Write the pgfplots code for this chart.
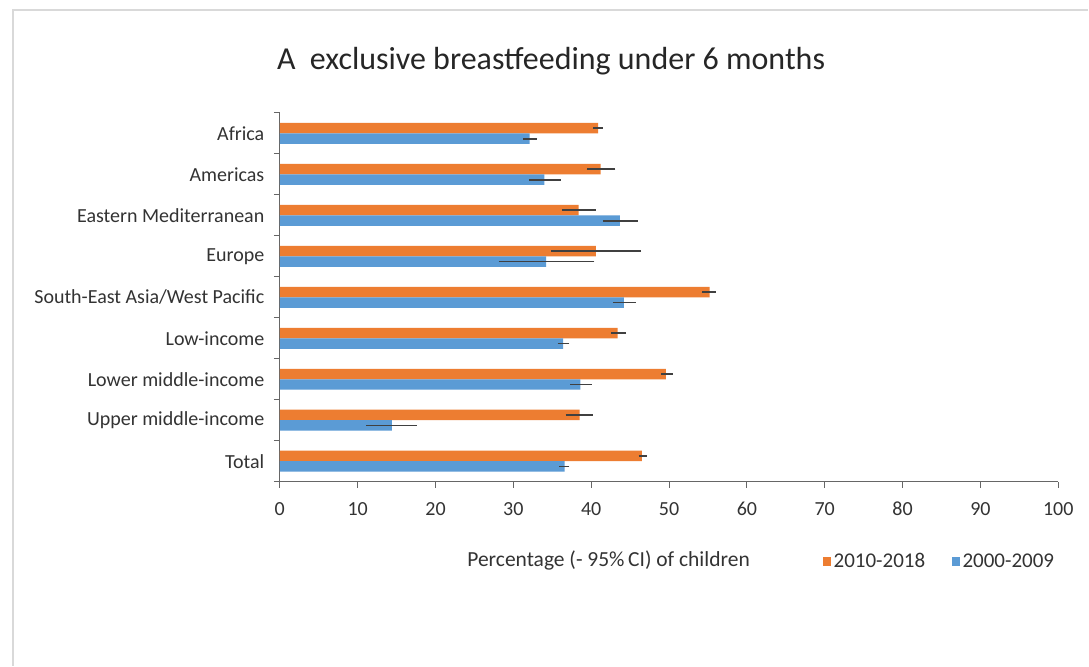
\documentclass[border=0pt]{standalone}
\usepackage{pgfplots}
\pgfplotsset{compat=1.18}
\usepackage{fontspec}
\setmainfont{Carlito}
\definecolor{orng}{HTML}{ED7D31}
\definecolor{blu}{HTML}{5B9BD5}
\begin{document}
\begin{tikzpicture}[x=1pt,y=1pt]
\fill[white] (0pt,0pt) rectangle (1089pt,-666pt);
\draw[black!15, line width=1.5pt] (13pt,-666pt) -- (13pt,-10pt) -- (1089pt,-10pt);
\node[anchor=base west, font=\fontsize{32}{38}\selectfont, text=black!85, inner sep=0pt] at (277pt,-70pt) {A\hspace{0.45em}exclusive breastfeeding under 6 months};
\begin{axis}[
  at={(280pt,-482pt)}, anchor=south west,
  width=779pt, height=369pt, scale only axis,
  xbar, bar width=10.5pt,
  xmin=0, xmax=100, ymin=-0.5, ymax=8.5, y dir=reverse,
  axis x line=bottom, axis y line=left,
  axis line style={black!60, line width=0.9pt, -},
  xtick={0,10,...,100},
  ytick={-0.5,0.5,...,8.5}, yticklabels={},
  extra y ticks={0,...,8},
  extra y tick labels={Africa,Americas,Eastern Mediterranean,Europe,South-East Asia/West Pacific,Low-income,Lower middle-income,Upper middle-income,Total},
  extra y tick style={major tick length=0pt, yticklabel style={xshift=-12pt}},
  tick align=outside, major tick length=6pt,
  tick style={black!60, line width=0.9pt},
  ticklabel style={font=\fontsize{20}{24}\selectfont, text=black!80},
  /pgf/number format/assume math mode=true,
  xticklabel style={yshift=-11pt},
  error bars/error bar style={line width=1.8pt, black!75},
  error bars/error mark=none,
]
\addplot[fill=orng, draw=none, bar shift=5.25pt,
  error bars/.cd, x dir=both, x explicit] coordinates {
  (40.9,0) += (0.6,0) -= (0.7,0)
  (41.2,1) += (1.9,0) -= (1.8,0)
  (38.4,2) += (2.2,0) -= (2.1,0)
  (40.6,3) += (5.8,0) -= (5.7,0)
  (55.2,4) += (0.8,0) -= (1.0,0)
  (43.4,5) += (1.1,0) -= (0.8,0)
  (49.6,6) += (0.9,0) -= (0.6,0)
  (38.5,7) += (1.7,0) -= (1.8,0)
  (46.5,8) += (0.7,0) -= (0.4,0)
};
\addplot[fill=blu, draw=none, bar shift=-5.25pt,
  error bars/.cd, x dir=both, x explicit] coordinates {
  (32.1,0) += (1.0,0) -= (0.8,0)
  (34.0,1) += (2.1,0) -= (2.0,0)
  (43.7,2) += (2.3,0) -= (2.2,0)
  (34.2,3) += (6.2,0) -= (6.1,0)
  (44.2,4) += (1.5,0) -= (1.4,0)
  (36.4,5) += (0.8,0) -= (0.7,0)
  (38.6,6) += (1.5,0) -= (1.3,0)
  (14.4,7) += (3.2,0) -= (3.3,0)
  (36.6,8) += (0.6,0) -= (0.7,0)
};
\end{axis}
\node[font=\fontsize{21.5}{26}\selectfont, text=black!80] at (609pt,-561pt) {Percentage (- 95\%\,CI) of children};
\fill[orng] (824pt,-566pt) rectangle (832pt,-557pt);
\node[anchor=west, font=\fontsize{21}{25}\selectfont, text=black!80, inner sep=0pt] at (834pt,-561pt) {2010-2018};
\fill[blu] (953pt,-566pt) rectangle (961pt,-557pt);
\node[anchor=west, font=\fontsize{21}{25}\selectfont, text=black!80, inner sep=0pt] at (963pt,-561pt) {2000-2009};
\end{tikzpicture}
\end{document}
